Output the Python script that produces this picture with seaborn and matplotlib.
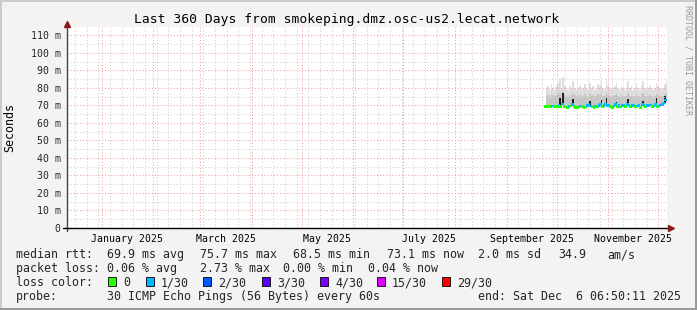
import matplotlib
matplotlib.use("Agg")
import matplotlib.pyplot as plt
import matplotlib.dates as mdates
import matplotlib.ticker as mticker
from matplotlib.patches import Rectangle
from matplotlib.lines import Line2D
import numpy as np
import pandas as pd
import seaborn as sns

# ---------------- data ----------------
title = "Last 360 Days from smokeping.dmz.osc-us2.lecat.network"
end_time = "2025-12-06 06:50:11"
span_days = 360
first_sample = "2025-09-24 12:00"

month_labels = ["January 2025", "March 2025", "May 2025", "July 2025",
                "September 2025", "November 2025"]
y_ticks = [0, 10, 20, 30, 40, 50, 60, 70, 80, 90, 100, 110]
y_ticklabels = ["0", "10 m", "20 m", "30 m", "40 m", "50 m", "60 m",
                "70 m", "80 m", "90 m", "100 m", "110 m"]

median_ms = [69.6, 69.4, 69.2, 69.5, 69.8, 69.3, 69.1, 69.4, 70.3, 69.6,
             70.9, 69.5, 69.2, 68.9, 69.6, 69.7, 70.4, 69.4, 69.0, 68.8,
             69.2, 69.8, 69.3, 68.9, 69.1, 69.9, 70.5, 69.8, 69.2, 69.0,
             69.7, 69.5, 70.0, 70.6, 69.3, 70.1, 70.8, 69.9, 70.2, 69.4,
             69.0, 69.8, 70.4, 69.6, 70.0, 69.1, 69.9, 70.2, 69.5, 70.7,
             70.1, 69.3, 69.9, 70.2, 69.5, 69.8, 70.1, 69.0, 70.6, 70.0,
             69.3, 69.9, 70.1, 70.3, 69.5, 69.8, 70.5, 69.6, 69.8, 70.2,
             70.4, 71.5, 73.1]

loss_count = [0, 0, 0, 0, 1, 0, 0, 0, 1, 0,
              1, 0, 0, 0, 1, 0, 1, 0, 0, 0,
              0, 1, 0, 0, 0, 1, 1, 1, 0, 0,
              1, 0, 1, 1, 0, 1, 1, 1, 1, 0,
              0, 1, 1, 0, 1, 0, 1, 1, 0, 1,
              1, 0, 1, 1, 0, 1, 1, 0, 1, 1,
              0, 1, 1, 1, 0, 1, 1, 0, 1, 1,
              1, 1, 1]

ping_lo = [69.0, 68.9, 68.7, 69.0, 69.2, 68.8, 68.6, 68.9, 69.6, 69.1,
           69.9, 69.0, 68.7, 68.5, 69.0, 69.1, 69.7, 68.9, 68.6, 68.5,
           68.7, 69.2, 68.8, 68.5, 68.6, 69.3, 69.8, 69.2, 68.7, 68.6,
           69.1, 69.0, 69.4, 69.8, 68.8, 69.5, 70.0, 69.3, 69.5, 68.9,
           68.6, 69.2, 69.7, 69.0, 69.4, 68.7, 69.3, 69.5, 69.0, 69.9,
           69.5, 68.8, 69.3, 69.6, 69.0, 69.2, 69.5, 68.6, 69.9, 69.4,
           68.8, 69.3, 69.5, 69.7, 69.0, 69.2, 69.8, 69.1, 69.2, 69.6,
           69.8, 70.6, 71.9]

ping_p75 = [75.5, 76.0, 75.0, 76.5, 75.8, 75.2, 76.0, 76.8, 77.5, 75.6,
            78.0, 76.2, 75.4, 75.0, 76.0, 75.5, 77.2, 75.8, 75.0, 75.3,
            75.8, 75.1, 75.6, 76.4, 75.2, 75.0, 76.8, 75.7, 76.0, 75.2,
            75.4, 76.3, 75.9, 77.0, 75.5, 75.2, 77.6, 76.0, 75.6, 75.1,
            75.4, 76.0, 76.9, 75.5, 75.1, 76.0, 75.6, 75.2, 75.5, 77.0,
            75.7, 76.1, 75.2, 75.6, 76.4, 75.5, 75.0, 75.9, 77.1, 75.6,
            75.2, 75.5, 76.0, 75.4, 75.1, 75.6, 76.8, 76.0, 75.5, 75.2,
            75.7, 76.5, 77.5]

ping_hi = [80, 81, 79, 82, 80, 79, 81, 83, 85, 80,
           86, 81, 80, 79, 81, 80, 84, 80, 79, 80,
           81, 79, 80, 82, 80, 79, 83, 80, 81, 79,
           80, 82, 81, 84, 80, 79, 85, 81, 80, 79,
           80, 81, 83, 80, 79, 81, 80, 79, 80, 84,
           80, 81, 79, 80, 82, 80, 79, 81, 84, 80,
           79, 80, 81, 80, 79, 80, 83, 81, 80, 79,
           80, 82, 84]

dark_top = [0, 0, 0, 0, 0, 0, 0, 0, 74.0, 0,
            77.0, 0, 0, 0, 0, 0, 73.5, 0, 0, 0,
            0, 0, 0, 0, 0, 0, 72.5, 0, 0, 0,
            0, 0, 0, 73.0, 0, 0, 74.0, 0, 0, 0,
            0, 0, 72.0, 0, 0, 0, 0, 0, 0, 73.5,
            0, 0, 0, 0, 0, 0, 0, 0, 72.5, 0,
            0, 0, 0, 0, 0, 0, 74.5, 0, 0, 0,
            0, 75.5, 0]

loss_names = ["0", "1/30", "2/30", "3/30", "4/30", "15/30", "29/30"]
loss_colors = ["#26ff00", "#00b8ff", "#0059ff", "#5e00ff", "#7e00ff",
               "#dd00ff", "#ff0000"]

stats_rtt = [("median rtt:", 16), ("69.9 ms avg", 107), ("75.7 ms max", 200),
             ("68.5 ms min", 293), ("73.1 ms now", 387), ("2.0 ms sd", 478),
             ("34.9", 558), ("am/s", 607)]
stats_loss = [("packet loss:", 16), ("0.06 % avg", 107),
              ("2.73 % max", 200), ("0.00 % min", 283),
              ("0.04 % now", 368)]
loss_box_x = [108, 146, 203, 262, 320, 377, 442]
probe_text = "30 ICMP Echo Pings (56 Bytes) every 60s"
end_text = "end: Sat Dec  6 06:50:11 2025"

# ---------------- figure ----------------
W, H = 697, 310
sns.set_style("white")
plt.rcParams["font.family"] = ["DejaVu Sans Mono"]

fig = plt.figure(figsize=(W / 100, H / 100), dpi=100, facecolor="#F3F3F3")


def fx(px):
    return px / W


def fy(py):
    return 1 - py / H


ax = fig.add_axes([fx(67), fy(228), 600 / W, 201 / H])
ax.set_facecolor("white")

end = pd.Timestamp(end_time)
start = end - pd.Timedelta(days=span_days)
days = pd.date_range(first_sample, periods=len(median_ms), freq="D")
xd = mdates.date2num(days)
xe = np.append(xd, xd[-1] + 1)


def ext(v):
    v = np.asarray(v, dtype=float)
    return np.append(v, v[-1])


# smoke
ax.fill_between(xe, ext(ping_lo), ext(ping_hi), step="post",
                color="#DEDEDE", lw=0, zorder=1)
ax.fill_between(xe, ext(ping_lo), ext(ping_p75), step="post",
                color="#C6C6C6", lw=0, zorder=1.1)
dt = np.asarray(dark_top, dtype=float)
med = np.asarray(median_ms, dtype=float)
ax.fill_between(xe, ext(med), ext(np.where(dt > 0, dt, med)), step="post",
                color="#1E1E1E", lw=0, zorder=1.2)

# median coloured by loss
df = pd.DataFrame({"date": xd, "median": median_ms,
                   "loss": [loss_names[c] for c in loss_count]})
sns.scatterplot(data=df, x="date", y="median", hue="loss",
                palette=dict(zip(loss_names, loss_colors)),
                marker="s", s=3.6, linewidth=0, legend=False, ax=ax, zorder=3)

ax.set_xlim(mdates.date2num(start), mdates.date2num(end))
ax.set_ylim(0, 114.85)
ax.set_xlabel("")
ax.set_ylabel("")

# grid
ax.xaxis.set_major_locator(mdates.MonthLocator())
ax.xaxis.set_minor_locator(mdates.WeekdayLocator(byweekday=mdates.MO))
ax.xaxis.set_major_formatter(mticker.NullFormatter())
ax.set_yticks(y_ticks)
ax.set_yticklabels(y_ticklabels)
ax.yaxis.set_minor_locator(mticker.MultipleLocator(5))
ax.set_axisbelow(False)
ax.grid(which="major", color="#F2A0A0", lw=0.75, ls=(0, (1, 2)), zorder=2)
ax.grid(which="minor", color="#CFCFCF", lw=0.75, ls=(0, (1, 2)), zorder=2)

ax.tick_params(axis="y", which="major", length=2.5, width=0.8, color="#333333",
               labelsize=7.1, pad=2, direction="out")
ax.tick_params(axis="y", which="minor", length=0)
ax.tick_params(axis="x", which="major", length=2.5, width=0.8, color="#F08080",
               direction="inout")
ax.tick_params(axis="x", which="minor", length=1.5, width=0.6, color="#BBBBBB",
               direction="inout")

for s in ax.spines.values():
    s.set_visible(False)

# axis lines and arrows
ax.add_line(Line2D([0, 0], [-3 / 201, 1.0], transform=ax.transAxes,
                   color="#444444", lw=1, clip_on=False, zorder=4))
ax.add_line(Line2D([-4 / 600, 1.003], [0, 0], transform=ax.transAxes,
                   color="#000000", lw=1, clip_on=False, zorder=4))
ax.plot([0], [1 + 3 / 201], marker="^", ms=4.5, color="#8B1A1A",
        transform=ax.transAxes, clip_on=False, zorder=5)
ax.plot([1 + 4 / 600], [0], marker=">", ms=4.5, color="#8B1A1A",
        transform=ax.transAxes, clip_on=False, zorder=5)

# month labels at mid-month
for lab in month_labels:
    m0 = pd.Timestamp(lab)
    m1 = m0 + pd.offsets.MonthBegin(1)
    mid = m0 + (m1 - m0) / 2
    ax.text(mdates.date2num(mid), -(241.5 - 228) / 201, lab,
            transform=ax.get_xaxis_transform(), ha="center", va="baseline",
            fontsize=7.1, color="#000000")

# titles
fig.text(fx(347), fy(23), title, ha="center", va="baseline", fontsize=9.4,
         color="#000000")
fig.text(fx(10), fy(128), "Seconds", rotation=90, ha="center", va="center",
         fontsize=8.4, color="#000000")
fig.text(fx(688), fy(5), "RRDTOOL / TOBI OETIKER", rotation=270, ha="center",
         va="top", fontsize=6.0, color="#9A9A9A")

FS = 8.4
for txt, px in stats_rtt:
    fig.text(fx(px), fy(258), txt, ha="left", va="baseline", fontsize=FS)
for txt, px in stats_loss:
    fig.text(fx(px), fy(272), txt, ha="left", va="baseline", fontsize=FS)
fig.text(fx(16), fy(286), "loss color:", ha="left", va="baseline", fontsize=FS)
for name, col, bx in zip(loss_names, loss_colors, loss_box_x):
    fig.add_artist(Rectangle((fx(bx), fy(286)), 8 / W, 9 / H,
                             transform=fig.transFigure, facecolor=col,
                             edgecolor="#000000", lw=0.6))
    fig.text(fx(bx + 15), fy(286), name, ha="left", va="baseline", fontsize=FS)
fig.text(fx(16), fy(300), "probe:", ha="left", va="baseline", fontsize=FS)
fig.text(fx(107), fy(300), probe_text, ha="left", va="baseline", fontsize=FS)
fig.text(fx(681), fy(300), end_text, ha="right", va="baseline", fontsize=FS)

# 3-D frame
fig.add_artist(Rectangle((0, 1 - 2 / H), 1, 2 / H, transform=fig.transFigure,
                         facecolor="#CBCBCB", lw=0))
fig.add_artist(Rectangle((0, 0), 2 / W, 1, transform=fig.transFigure,
                         facecolor="#CBCBCB", lw=0))
fig.add_artist(Rectangle((0, 0), 1, 2 / H, transform=fig.transFigure,
                         facecolor="#999999", lw=0))
fig.add_artist(Rectangle((1 - 2 / W, 0), 2 / W, 1, transform=fig.transFigure,
                         facecolor="#999999", lw=0))

fig.savefig("out.png", dpi=100, facecolor=fig.get_facecolor())
